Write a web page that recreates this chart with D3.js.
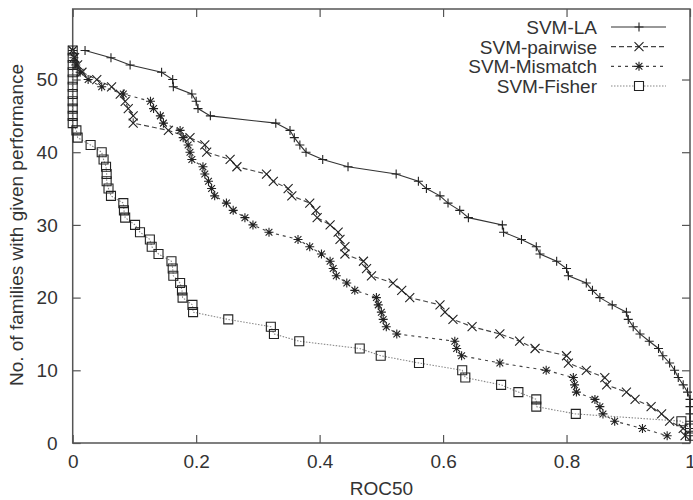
<!DOCTYPE html>
<html lang="en">

<head>
    <meta charset="utf-8">
    <title>ROC50 per family</title>
    <script src="https://d3js.org/d3.v7.min.js"></script>
    <style>
        body { margin: 0; background: #fff; }
        svg { display: block; font-family: "Liberation Sans", Arial, Helvetica, sans-serif; }
        .tick text, .lbl { font-size: 19px; fill: #333; }
        .tick line { stroke: #555; stroke-width: 1.2; }
    </style>
</head>

<body>
    <script type="text/javascript">

        //Data - number of families (y) reaching a given ROC50 (x)
        const counts = [54, 53, 52, 51, 50, 49, 48, 47, 46, 45, 44, 43, 42, 41, 40, 39, 38, 37,
            36, 35, 34, 33, 32, 31, 30, 29, 28, 27, 26, 25, 24, 23, 22, 21, 20, 19,
            18, 17, 16, 15, 14, 13, 12, 11, 10, 9, 8, 7, 6, 5, 4, 3, 2, 1];

        const rocLA = [0.02, 0.062, 0.093, 0.144, 0.162, 0.163, 0.193, 0.2, 0.203, 0.223, 0.329, 0.352, 0.359, 0.368, 0.378, 0.405, 0.446, 0.524,
            0.56, 0.573, 0.595, 0.608, 0.627, 0.641, 0.696, 0.698, 0.727, 0.751, 0.757, 0.784, 0.8, 0.803, 0.832, 0.842, 0.854, 0.874,
            0.897, 0.9, 0.908, 0.919, 0.934, 0.949, 0.956, 0.967, 0.975, 0.981, 0.989, 0.996, 1, 1, 1, 1, 1, 1];

        const rocPairwise = [0, 0.003, 0.008, 0.015, 0.039, 0.063, 0.077, 0.085, 0.09, 0.098, 0.098, 0.155, 0.19, 0.214, 0.217, 0.255, 0.266, 0.314,
            0.325, 0.349, 0.355, 0.384, 0.394, 0.396, 0.417, 0.43, 0.433, 0.441, 0.441, 0.471, 0.476, 0.484, 0.519, 0.533, 0.546, 0.595,
            0.603, 0.616, 0.647, 0.692, 0.724, 0.749, 0.8, 0.803, 0.832, 0.862, 0.865, 0.897, 0.911, 0.937, 0.954, 0.967, 0.989, 0.992];

        const rocMismatch = [0, 0.002, 0.005, 0.012, 0.025, 0.047, 0.082, 0.126, 0.131, 0.142, 0.147, 0.174, 0.179, 0.187, 0.19, 0.193, 0.211, 0.214,
            0.22, 0.225, 0.23, 0.249, 0.26, 0.279, 0.292, 0.318, 0.365, 0.384, 0.403, 0.417, 0.422, 0.427, 0.444, 0.457, 0.492, 0.495,
            0.5, 0.503, 0.508, 0.525, 0.619, 0.622, 0.63, 0.692, 0.767, 0.811, 0.813, 0.816, 0.846, 0.854, 0.859, 0.878, 0.923, 0.963];

        const rocFisher = [0, 0, 0, 0, 0, 0, 0, 0, 0, 0, 0, 0.006, 0.008, 0.029, 0.047, 0.05, 0.054, 0.055,
            0.055, 0.058, 0.062, 0.082, 0.083, 0.085, 0.101, 0.109, 0.125, 0.128, 0.139, 0.16, 0.162, 0.163, 0.174, 0.177, 0.178, 0.194,
            0.195, 0.252, 0.321, 0.326, 0.367, 0.465, 0.499, 0.561, 0.631, 0.636, 0.694, 0.722, 0.751, 0.751, 0.815, 0.986, 1, 1];

        const seriesNames = ["SVM-LA", "SVM-pairwise", "SVM-Mismatch", "SVM-Fisher"];
        const xTicks = [0, 0.2, 0.4, 0.6, 0.8, 1];
        const yTicks = [0, 10, 20, 30, 40, 50];

        //declare consts
        const w = 693;
        const h = 500;
        const mLeft = 72.7, mRight = 690, mTop = 9, mBottom = 443;

        const x = d3.scaleLinear().domain([0, 1]).range([mLeft, mRight]);
        const y = d3.scaleLinear().domain([0, 59.7]).range([mBottom, mTop]);

        //line + marker styles, one per series
        const r = 4.5;
        const markers = {
            plus: `M${-r},0H${r}M0,${-r}V${r}`,
            cross: `M${-r},${-r}L${r},${r}M${-r},${r}L${r},${-r}`,
            star: `M${-r},0H${r}M0,${-r}V${r}M${-r * 0.75},${-r * 0.75}L${r * 0.75},${r * 0.75}M${-r * 0.75},${r * 0.75}L${r * 0.75},${-r * 0.75}`,
            square: `M${-r},${-r}H${r}V${r}H${-r}Z`
        };

        const series = [
            { name: seriesNames[0], xs: rocLA, marker: "plus", dash: null, stroke: "#333" },
            { name: seriesNames[1], xs: rocPairwise, marker: "cross", dash: "5,3", stroke: "#444" },
            { name: seriesNames[2], xs: rocMismatch, marker: "star", dash: "3,4", stroke: "#444" },
            { name: seriesNames[3], xs: rocFisher, marker: "square", dash: "1.5,1.5", stroke: "#888" }
        ];
        series.forEach(s => {
            s.points = s.xs.map((v, i) => ({ x: v, y: counts[i] }));
        });

        //SVG
        const svg = d3.select("body")
            .append("svg")
            .attr("width", w)
            .attr("height", h);

        //axes, ticks point inward on all four sides
        svg.append("g")
            .attr("transform", "translate(0," + mBottom + ")")
            .call(d3.axisBottom(x).tickValues(xTicks).tickFormat(d3.format("")).tickSizeInner(-8).tickSizeOuter(0).tickPadding(12))
            .call(g => g.select(".domain").remove());

        svg.append("g")
            .attr("transform", "translate(0," + mTop + ")")
            .call(d3.axisTop(x).tickValues(xTicks).tickFormat("").tickSizeInner(-8).tickSizeOuter(0))
            .call(g => g.select(".domain").remove());

        svg.append("g")
            .attr("transform", "translate(" + mLeft + ",0)")
            .call(d3.axisLeft(y).tickValues(yTicks).tickSizeInner(-8).tickSizeOuter(0).tickPadding(15))
            .call(g => g.select(".domain").remove());

        svg.append("g")
            .attr("transform", "translate(" + mRight + ",0)")
            .call(d3.axisRight(y).tickValues(yTicks).tickFormat("").tickSizeInner(-8).tickSizeOuter(0))
            .call(g => g.select(".domain").remove());

        svg.selectAll("g").attr("font-family", null).attr("font-size", null);

        //frame
        svg.append("rect")
            .attr("x", mLeft)
            .attr("y", mTop)
            .attr("width", mRight - mLeft)
            .attr("height", mBottom - mTop)
            .attr("fill", "none")
            .attr("stroke", "#555")
            .attr("stroke-width", 1.5);

        //axis titles
        svg.append("text")
            .attr("class", "lbl")
            .attr("x", (mLeft + mRight) / 2)
            .attr("y", 495)
            .attr("text-anchor", "middle")
            .text("ROC50");

        svg.append("text")
            .attr("class", "lbl")
            .attr("transform", "translate(16," + 225 + ") rotate(-90)")
            .attr("text-anchor", "middle")
            .attr("dy", "0.35em")
            .text("No. of families with given performance");

        //lines and markers
        const line = d3.line().x(d => x(d.x)).y(d => y(d.y));

        const groups = svg.selectAll("g.series")
            .data(series)
            .enter()
            .append("g")
            .attr("class", "series");

        groups.append("path")
            .attr("d", d => line(d.points))
            .attr("fill", "none")
            .attr("stroke", d => d.stroke)
            .attr("stroke-width", 1.1)
            .attr("stroke-dasharray", d => d.dash);

        groups.each(function (s) {
            d3.select(this).selectAll("path.mk")
                .data(s.points)
                .enter()
                .append("path")
                .attr("class", "mk")
                .attr("transform", d => "translate(" + x(d.x) + "," + y(d.y) + ")")
                .attr("d", markers[s.marker])
                .attr("fill", "none")
                .attr("stroke", "#222")
                .attr("stroke-width", 1.1);
        });

        //Legend
        const legY = d3.scalePoint().domain(seriesNames).range([27, 86]);
        const legend = svg.selectAll("g.legend")
            .data(series)
            .enter()
            .append("g")
            .attr("class", "legend")
            .attr("transform", d => "translate(0," + legY(d.name) + ")");

        legend.append("text")
            .attr("class", "lbl")
            .attr("x", 597)
            .attr("dy", "0.36em")
            .attr("text-anchor", "end")
            .text(d => d.name);

        legend.append("line")
            .attr("x1", 611)
            .attr("x2", 666)
            .attr("stroke", d => d.stroke)
            .attr("stroke-width", 1.1)
            .attr("stroke-dasharray", d => d.dash);

        legend.append("path")
            .attr("transform", "translate(639,0)")
            .attr("d", d => markers[d.marker])
            .attr("fill", "#fff")
            .attr("stroke", "#222")
            .attr("stroke-width", 1.1);

    </script>
</body>

</html>
